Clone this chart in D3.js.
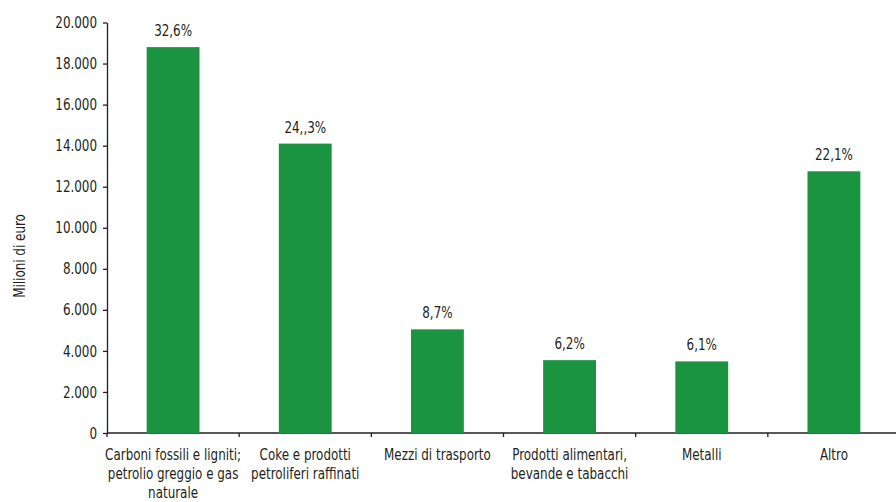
<!DOCTYPE html>
<html>
<head>
<meta charset="utf-8">
<script src="https://cdn.jsdelivr.net/npm/d3@7"></script>
<style>
  body { margin: 0; background: #fff; }
  svg text { font-family: "DejaVu Sans Condensed", "Liberation Sans Narrow", sans-serif; fill: #231f20; }
</style>
</head>
<body>
<svg id="chart" width="896" height="502"></svg>
<script>
// --- Data ---
const categories = [
  ["Carboni fossili e ligniti;", "petrolio greggio e gas", "naturale"],
  ["Coke e prodotti", "petroliferi raffinati"],
  ["Mezzi di trasporto"],
  ["Prodotti alimentari,", "bevande e tabacchi"],
  ["Metalli"],
  ["Altro"]
];
const values = [18800, 14100, 5050, 3550, 3490, 12750];
const shares = ["32,6%", "24,,3%", "8,7%", "6,2%", "6,1%", "22,1%"];
const yTicks = [0, 2000, 4000, 6000, 8000, 10000, 12000, 14000, 16000, 18000, 20000];

// --- Layout ---
const svg = d3.select("#chart");
const mLeft = 107, mRight = 900, mTop = 22.5, mBottom = 433;
const squeeze = 0.83; // condensed look

const idx = categories.map((d, i) => i);
const x = d3.scaleBand().domain(idx).range([mLeft, mRight]).paddingInner(0.6).paddingOuter(0.3);
const y = d3.scaleLinear().domain([0, 20000]).range([mBottom, mTop]);
const fmt = (v) => d3.format(",")(v).replace(/,/g, ".");
const cx = (i) => x(i) + x.bandwidth() / 2;

// y axis
const yAxis = svg.append("g")
  .attr("transform", `translate(${mLeft},0)`)
  .attr("font-family", null)
  .call(d3.axisLeft(y).tickValues(yTicks).tickFormat(fmt).tickSize(4).tickPadding(8).tickSizeOuter(0));
yAxis.selectAll("text")
  .attr("font-size", 16)
  .attr("transform", `scale(${squeeze},1)`);
yAxis.selectAll("line, path").attr("stroke", "#231f20").attr("stroke-width", 1.3);

// x axis line with ticks at category boundaries
svg.append("line")
  .attr("x1", mLeft).attr("x2", 896)
  .attr("y1", mBottom).attr("y2", mBottom)
  .attr("stroke", "#231f20").attr("stroke-width", 1.3);
const step = x.step();
const x0 = x(0) - x.paddingOuter() * step;
svg.append("g").selectAll("line")
  .data(idx.concat([categories.length]))
  .join("line")
  .attr("x1", (i) => x0 + i * step)
  .attr("x2", (i) => x0 + i * step)
  .attr("y1", mBottom).attr("y2", mBottom + 4)
  .attr("stroke", "#231f20").attr("stroke-width", 1.3);

// bars
svg.append("g").selectAll("rect")
  .data(values)
  .join("rect")
  .attr("x", (d, i) => x(i))
  .attr("width", x.bandwidth())
  .attr("y", (d) => y(d))
  .attr("height", (d) => mBottom - y(d))
  .attr("fill", "#1b9442");

// value labels
svg.append("g").selectAll("text")
  .data(values)
  .join("text")
  .attr("transform", (d, i) => `translate(${cx(i)},${y(d) - 11}) scale(${squeeze},1)`)
  .attr("text-anchor", "middle")
  .attr("font-size", 16)
  .text((d, i) => shares[i]);

// category labels
const cat = svg.append("g").selectAll("text")
  .data(categories)
  .join("text")
  .attr("text-anchor", "middle")
  .attr("font-size", 16)
  .attr("transform", (d, i) => `translate(${cx(i)},460) scale(${squeeze},1)`);
cat.selectAll("tspan")
  .data((d) => d)
  .join("tspan")
  .attr("x", 0)
  .attr("dy", (d, j) => (j === 0 ? 0 : 19))
  .text((d) => d);

// y title
svg.append("text")
  .attr("transform", `translate(25,256) rotate(-90) scale(${squeeze},1)`)
  .attr("text-anchor", "middle")
  .attr("font-size", 16)
  .text("Milioni di euro");
</script>
</body>
</html>
